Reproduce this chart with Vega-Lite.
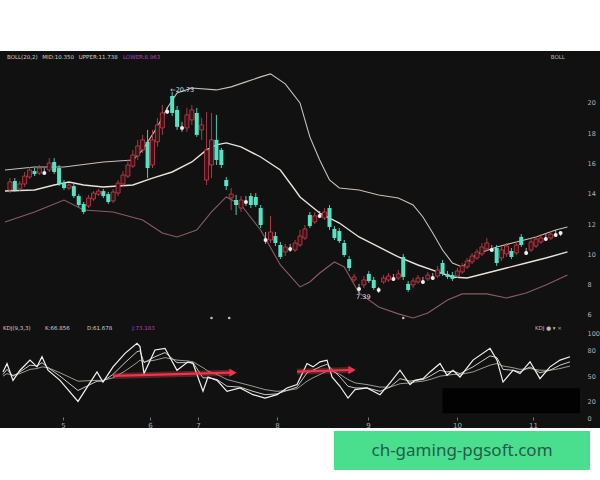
{
 "$schema": "https://vega.github.io/schema/vega-lite/v6.json",
 "background": "#ffffff",
 "padding": {"top": 51, "left": 0, "right": 0, "bottom": 0},
 "config": {"font": "DejaVu Sans", "view": {"stroke": null}},
 "datasets": {
  "candles": [
   {"t":0,"open":14.25,"close":14.78,"high":15.04,"low":14.05},
   {"t":1,"open":14.84,"close":14.25,"high":15.04,"low":14.12},
   {"t":2,"open":14.32,"close":14.65,"high":14.84,"low":14.18},
   {"t":3,"open":14.65,"close":15.17,"high":15.44,"low":14.45},
   {"t":4,"open":15.11,"close":15.57,"high":15.77,"low":14.98},
   {"t":5,"open":15.50,"close":15.31,"high":15.70,"low":15.17},
   {"t":6,"open":15.37,"close":15.70,"high":15.90,"low":15.24},
   {"t":7,"open":15.50,"close":15.37,"high":15.70,"low":15.24},
   {"t":8,"open":15.57,"close":16.03,"high":16.36,"low":15.44},
   {"t":9,"open":16.10,"close":15.44,"high":16.36,"low":15.31},
   {"t":10,"open":15.70,"close":14.65,"high":15.90,"low":14.51},
   {"t":11,"open":14.71,"close":14.38,"high":14.91,"low":14.25},
   {"t":12,"open":14.38,"close":14.58,"high":14.71,"low":14.25},
   {"t":13,"open":14.51,"close":13.85,"high":14.65,"low":13.72},
   {"t":14,"open":13.85,"close":13.26,"high":13.98,"low":13.13},
   {"t":15,"open":13.33,"close":12.80,"high":13.46,"low":12.67},
   {"t":16,"open":13.20,"close":13.72,"high":13.92,"low":13.06},
   {"t":17,"open":13.66,"close":14.05,"high":14.18,"low":13.53},
   {"t":18,"open":13.98,"close":14.18,"high":14.32,"low":13.85},
   {"t":19,"open":14.18,"close":13.85,"high":14.32,"low":13.72},
   {"t":20,"open":13.98,"close":13.46,"high":14.12,"low":13.33},
   {"t":21,"open":13.53,"close":14.12,"high":14.32,"low":13.39},
   {"t":22,"open":14.05,"close":14.71,"high":14.91,"low":13.85},
   {"t":23,"open":14.65,"close":15.24,"high":15.50,"low":14.45},
   {"t":24,"open":15.17,"close":15.90,"high":16.23,"low":15.04},
   {"t":25,"open":15.83,"close":16.56,"high":16.90,"low":15.70},
   {"t":26,"open":16.50,"close":17.16,"high":17.56,"low":16.23},
   {"t":27,"open":16.90,"close":17.56,"high":17.89,"low":16.70},
   {"t":28,"open":17.43,"close":15.70,"high":18.22,"low":15.04},
   {"t":29,"open":15.90,"close":17.56,"high":18.22,"low":15.70},
   {"t":30,"open":17.43,"close":18.55,"high":19.01,"low":17.10},
   {"t":31,"open":18.35,"close":19.34,"high":19.87,"low":17.89},
   {"t":32,"open":19.54,"close":19.41,"high":19.74,"low":19.28},
   {"t":33,"open":20.46,"close":19.34,"high":20.73,"low":19.14},
   {"t":34,"open":19.54,"close":18.42,"high":19.80,"low":18.22},
   {"t":35,"open":18.48,"close":18.35,"high":18.75,"low":18.09},
   {"t":36,"open":18.35,"close":19.21,"high":19.67,"low":18.09},
   {"t":37,"open":18.88,"close":19.54,"high":19.87,"low":18.55},
   {"t":38,"open":19.34,"close":17.89,"high":19.67,"low":17.76},
   {"t":39,"open":18.22,"close":18.55,"high":19.01,"low":17.56},
   {"t":40,"open":14.91,"close":16.90,"high":19.41,"low":14.58},
   {"t":41,"open":15.90,"close":17.56,"high":19.34,"low":15.04},
   {"t":42,"open":17.56,"close":16.23,"high":19.21,"low":15.90},
   {"t":43,"open":16.90,"close":15.90,"high":17.03,"low":15.70},
   {"t":44,"open":14.91,"close":14.51,"high":15.11,"low":14.25},
   {"t":45,"open":13.72,"close":13.98,"high":14.38,"low":12.93},
   {"t":46,"open":13.59,"close":13.26,"high":13.92,"low":12.60},
   {"t":47,"open":13.06,"close":13.59,"high":13.85,"low":12.80},
   {"t":48,"open":13.59,"close":13.46,"high":13.85,"low":13.20},
   {"t":49,"open":13.85,"close":13.26,"high":14.05,"low":13.06},
   {"t":50,"open":13.79,"close":13.26,"high":14.05,"low":13.13},
   {"t":51,"open":13.06,"close":11.94,"high":13.26,"low":11.74},
   {"t":52,"open":11.08,"close":10.95,"high":11.48,"low":10.69},
   {"t":53,"open":10.95,"close":11.48,"high":12.54,"low":10.75},
   {"t":54,"open":11.21,"close":10.75,"high":11.48,"low":10.55},
   {"t":55,"open":10.62,"close":9.83,"high":10.82,"low":9.69},
   {"t":56,"open":10.16,"close":10.49,"high":10.69,"low":9.89},
   {"t":57,"open":10.49,"close":10.36,"high":10.69,"low":10.16},
   {"t":58,"open":10.29,"close":10.75,"high":10.95,"low":10.16},
   {"t":59,"open":10.62,"close":11.21,"high":11.61,"low":10.49},
   {"t":60,"open":11.08,"close":11.68,"high":11.94,"low":10.95},
   {"t":61,"open":12.60,"close":11.87,"high":12.80,"low":11.74},
   {"t":62,"open":12.14,"close":12.54,"high":12.80,"low":12.01},
   {"t":63,"open":12.67,"close":12.54,"high":12.87,"low":12.40},
   {"t":64,"open":12.40,"close":12.80,"high":13.06,"low":12.27},
   {"t":65,"open":13.06,"close":11.81,"high":13.26,"low":11.61},
   {"t":66,"open":11.68,"close":11.08,"high":11.87,"low":10.95},
   {"t":67,"open":11.54,"close":10.88,"high":11.74,"low":10.75},
   {"t":68,"open":10.75,"close":9.96,"high":10.95,"low":9.83},
   {"t":69,"open":9.69,"close":9.10,"high":9.89,"low":8.90},
   {"t":70,"open":8.31,"close":8.51,"high":8.71,"low":8.18},
   {"t":71,"open":7.85,"close":7.72,"high":8.05,"low":7.39},
   {"t":72,"open":7.98,"close":8.31,"high":8.57,"low":7.78},
   {"t":73,"open":8.71,"close":8.24,"high":8.90,"low":8.11},
   {"t":74,"open":8.31,"close":7.78,"high":8.51,"low":7.65},
   {"t":75,"open":7.72,"close":7.65,"high":7.85,"low":7.45},
   {"t":76,"open":8.18,"close":8.44,"high":8.64,"low":8.05},
   {"t":77,"open":8.31,"close":8.57,"high":8.77,"low":8.18},
   {"t":78,"open":8.51,"close":8.38,"high":8.71,"low":8.24},
   {"t":79,"open":8.44,"close":8.71,"high":8.97,"low":8.31},
   {"t":80,"open":9.83,"close":8.51,"high":10.03,"low":8.31},
   {"t":81,"open":8.05,"close":7.65,"high":8.24,"low":7.52},
   {"t":82,"open":7.98,"close":8.24,"high":8.44,"low":7.78},
   {"t":83,"open":8.18,"close":8.44,"high":8.64,"low":8.05},
   {"t":84,"open":8.31,"close":8.18,"high":8.51,"low":8.05},
   {"t":85,"open":8.38,"close":8.64,"high":8.84,"low":8.24},
   {"t":86,"open":8.57,"close":8.44,"high":8.77,"low":8.31},
   {"t":87,"open":8.57,"close":8.97,"high":9.24,"low":8.44},
   {"t":88,"open":9.43,"close":8.71,"high":9.63,"low":8.57},
   {"t":89,"open":8.71,"close":8.51,"high":8.90,"low":8.38},
   {"t":90,"open":8.64,"close":8.38,"high":8.84,"low":8.24},
   {"t":91,"open":8.57,"close":8.90,"high":9.10,"low":8.44},
   {"t":92,"open":8.84,"close":9.24,"high":9.43,"low":8.71},
   {"t":93,"open":9.17,"close":9.56,"high":9.76,"low":9.04},
   {"t":94,"open":9.50,"close":9.89,"high":10.09,"low":9.36},
   {"t":95,"open":9.76,"close":10.16,"high":10.36,"low":9.63},
   {"t":96,"open":10.03,"close":10.49,"high":10.75,"low":9.89},
   {"t":97,"open":10.36,"close":10.75,"high":11.08,"low":10.22},
   {"t":98,"open":10.42,"close":10.29,"high":10.62,"low":10.16},
   {"t":99,"open":10.42,"close":9.43,"high":10.62,"low":9.24},
   {"t":100,"open":9.76,"close":10.29,"high":10.55,"low":9.56},
   {"t":101,"open":10.03,"close":10.55,"high":10.75,"low":9.83},
   {"t":102,"open":10.22,"close":9.83,"high":10.42,"low":9.69},
   {"t":103,"open":10.09,"close":10.62,"high":10.88,"low":9.96},
   {"t":104,"open":11.15,"close":10.62,"high":11.34,"low":10.49},
   {"t":105,"open":10.22,"close":10.09,"high":10.42,"low":9.96},
   {"t":106,"open":10.29,"close":10.82,"high":11.08,"low":10.16},
   {"t":107,"open":10.55,"close":11.01,"high":11.21,"low":10.42},
   {"t":108,"open":10.82,"close":11.08,"high":11.34,"low":10.69},
   {"t":109,"open":11.15,"close":11.01,"high":11.34,"low":10.88},
   {"t":110,"open":11.08,"close":11.34,"high":11.54,"low":10.95},
   {"t":111,"open":11.41,"close":11.28,"high":11.61,"low":11.15},
   {"t":112,"open":11.34,"close":11.41,"high":11.54,"low":11.21}
  ],
  "bands": [
   {"band":"upper","t":-1,"p":15.57},{"band":"upper","t":5,"p":15.77},{"band":"upper","t":11,"p":15.77},{"band":"upper","t":19,"p":16.10},{"band":"upper","t":25,"p":16.23},{"band":"upper","t":27,"p":16.90},{"band":"upper","t":30,"p":18.42},{"band":"upper","t":32,"p":19.67},{"band":"upper","t":34,"p":20.66},{"band":"upper","t":37,"p":20.99},{"band":"upper","t":42,"p":20.86},{"band":"upper","t":45,"p":21.06},{"band":"upper","t":48,"p":21.39},{"band":"upper","t":51,"p":21.72},{"band":"upper","t":53,"p":21.92},{"band":"upper","t":56,"p":21.26},{"band":"upper","t":59,"p":20.00},{"band":"upper","t":61,"p":17.76},{"band":"upper","t":63,"p":16.23},{"band":"upper","t":65,"p":14.91},{"band":"upper","t":67,"p":14.38},{"band":"upper","t":71,"p":14.25},{"band":"upper","t":75,"p":13.92},{"band":"upper","t":79,"p":13.72},{"band":"upper","t":82,"p":13.26},{"band":"upper","t":84,"p":12.47},{"band":"upper","t":86,"p":11.41},{"band":"upper","t":88,"p":10.29},{"band":"upper","t":90,"p":9.43},{"band":"upper","t":92,"p":9.17},{"band":"upper","t":95,"p":10.03},{"band":"upper","t":99,"p":10.49},{"band":"upper","t":103,"p":10.82},{"band":"upper","t":107,"p":11.15},{"band":"upper","t":111,"p":11.61},{"band":"upper","t":113.4,"p":11.81},
   {"band":"mid","t":-1,"p":14.18},{"band":"mid","t":5,"p":14.25},{"band":"mid","t":9,"p":14.58},{"band":"mid","t":12,"p":14.78},{"band":"mid","t":15,"p":14.58},{"band":"mid","t":19,"p":14.45},{"band":"mid","t":25,"p":14.58},{"band":"mid","t":29,"p":15.04},{"band":"mid","t":33,"p":15.44},{"band":"mid","t":37,"p":16.10},{"band":"mid","t":40,"p":16.90},{"band":"mid","t":42,"p":17.23},{"band":"mid","t":44,"p":17.36},{"band":"mid","t":47,"p":17.10},{"band":"mid","t":51,"p":16.43},{"band":"mid","t":55,"p":15.57},{"band":"mid","t":58,"p":14.25},{"band":"mid","t":59,"p":13.79},{"band":"mid","t":63,"p":12.73},{"band":"mid","t":67,"p":12.07},{"band":"mid","t":71,"p":11.15},{"band":"mid","t":75,"p":10.49},{"band":"mid","t":79,"p":9.83},{"band":"mid","t":83,"p":9.30},{"band":"mid","t":87,"p":8.84},{"band":"mid","t":90,"p":8.51},{"band":"mid","t":93,"p":8.44},{"band":"mid","t":97,"p":8.77},{"band":"mid","t":101,"p":9.10},{"band":"mid","t":105,"p":9.43},{"band":"mid","t":109,"p":9.76},{"band":"mid","t":113.4,"p":10.16},
   {"band":"lower","t":-1,"p":12.14},{"band":"lower","t":5,"p":12.80},{"band":"lower","t":11,"p":13.59},{"band":"lower","t":15,"p":12.93},{"band":"lower","t":21,"p":12.80},{"band":"lower","t":27,"p":12.27},{"band":"lower","t":31,"p":11.41},{"band":"lower","t":34,"p":11.15},{"band":"lower","t":38,"p":11.61},{"band":"lower","t":41,"p":12.80},{"band":"lower","t":44,"p":13.79},{"band":"lower","t":47,"p":13.26},{"band":"lower","t":51,"p":11.61},{"band":"lower","t":55,"p":9.30},{"band":"lower","t":59,"p":7.85},{"band":"lower","t":61,"p":8.18},{"band":"lower","t":63,"p":8.77},{"band":"lower","t":66,"p":9.50},{"band":"lower","t":68,"p":9.17},{"band":"lower","t":71,"p":7.45},{"band":"lower","t":75,"p":6.53},{"band":"lower","t":79,"p":6.07},{"band":"lower","t":82,"p":5.80},{"band":"lower","t":85,"p":6.13},{"band":"lower","t":89,"p":6.99},{"band":"lower","t":92,"p":7.39},{"band":"lower","t":97,"p":7.39},{"band":"lower","t":101,"p":7.12},{"band":"lower","t":105,"p":7.45},{"band":"lower","t":109,"p":7.98},{"band":"lower","t":113.4,"p":8.64}
  ],
  "priceNotes": [
   {"t":32.6,"p":20.86,"txt":"←20.73"},
   {"t":70.4,"p":7.19,"txt":"7.39"}
  ],
  "events": [{"t":41,"p":5.8},{"t":44.6,"p":5.8},{"t":80,"p":5.8}],
  "priceHeader": [
   {"t":-0.6,"p":23.04,"txt":"BOLL(20,2)","tone":"w"},
   {"t":6.6,"p":23.04,"txt":"MID:10.350","tone":"w"},
   {"t":14,"p":23.04,"txt":"UPPER:11.738","tone":"w"},
   {"t":23,"p":23.04,"txt":"LOWER:8.963","tone":"m"},
   {"t":110,"p":23.04,"txt":"BOLL","tone":"g"}
  ],
  "kdj": [
   {"t":-0.4,"J":55,"K":52,"D":50},{"t":0.4,"J":65,"K":58,"D":53},{"t":1.6,"J":45,"K":50,"D":51},{"t":3,"J":57,"K":55,"D":53},{"t":5,"J":69,"K":63,"D":58},{"t":6.4,"J":61,"K":62,"D":59},{"t":7.4,"J":73,"K":66,"D":61},{"t":8.6,"J":57,"K":60,"D":60},{"t":11,"J":45,"K":50,"D":54},{"t":14.6,"J":20,"K":33,"D":44},{"t":18.4,"J":55,"K":44,"D":45},{"t":19.6,"J":43,"K":44,"D":45},{"t":21.6,"J":61,"K":52,"D":48},{"t":24,"J":77,"K":66,"D":56},{"t":26.4,"J":89,"K":79,"D":66},{"t":27,"J":85,"K":80,"D":69},{"t":27.8,"J":53,"K":66,"D":67},{"t":30,"J":81,"K":73,"D":69},{"t":32,"J":83,"K":78,"D":72},{"t":34.4,"J":57,"K":66,"D":69},{"t":36.6,"J":67,"K":66,"D":68},{"t":37.6,"J":65,"K":66,"D":67},{"t":39.6,"J":32,"K":48,"D":60},{"t":40.6,"J":49,"K":48,"D":56},{"t":42.4,"J":45,"K":46,"D":52},{"t":44.4,"J":32,"K":38,"D":46},{"t":47,"J":36,"K":37,"D":42},{"t":49.6,"J":28,"K":32,"D":38},{"t":52,"J":24,"K":28,"D":34},{"t":54.4,"J":28,"K":29,"D":32},{"t":56.4,"J":36,"K":33,"D":33},{"t":58.4,"J":40,"K":37,"D":35},{"t":60.4,"J":65,"K":54,"D":44},{"t":61.6,"J":61,"K":57,"D":48},{"t":63,"J":67,"K":61,"D":52},{"t":64.4,"J":69,"K":64,"D":56},{"t":65.4,"J":49,"K":58,"D":56},{"t":67,"J":38,"K":49,"D":52},{"t":68.6,"J":24,"K":38,"D":46},{"t":70,"J":34,"K":36,"D":42},{"t":72.4,"J":36,"K":36,"D":40},{"t":75,"J":28,"K":32,"D":37},{"t":77,"J":42,"K":37,"D":37},{"t":79,"J":57,"K":47,"D":41},{"t":81,"J":40,"K":44,"D":42},{"t":82,"J":45,"K":45,"D":43},{"t":83.6,"J":47,"K":46,"D":44},{"t":85,"J":55,"K":50,"D":46},{"t":87,"J":65,"K":57,"D":50},{"t":88.4,"J":51,"K":55,"D":51},{"t":89.6,"J":57,"K":56,"D":52},{"t":91,"J":49,"K":53,"D":52},{"t":93.6,"J":69,"K":61,"D":55},{"t":97,"J":83,"K":74,"D":63},{"t":98.4,"J":69,"K":72,"D":65},{"t":99.6,"J":43,"K":58,"D":62},{"t":101.6,"J":57,"K":57,"D":60},{"t":103,"J":53,"K":55,"D":58},{"t":105,"J":67,"K":61,"D":59},{"t":107,"J":47,"K":54,"D":57},{"t":109,"J":61,"K":57,"D":57},{"t":111,"J":69,"K":63,"D":59},{"t":113,"J":73,"K":67,"D":62}
  ],
  "arrows": [
   {"arrow":"a","t":21.6,"v":50.3},{"arrow":"a","t":45.2,"v":54.1},
   {"arrow":"b","t":58.4,"v":55.3},{"arrow":"b","t":69.0,"v":57.3}
  ],
  "arrowHeads": [{"t":45.6,"v":54.1},{"t":69.4,"v":57.3}],
  "mask": [{"t1":87.5,"t2":115,"v1":5.9,"v2":35.6}],
  "kdjHeader": [
   {"t":-0.4,"v":107,"txt":"KDJ(9,3,3)","tone":"w"},
   {"t":8,"v":107,"txt":"K:66.856","tone":"w"},
   {"t":16.4,"v":107,"txt":"D:61.678","tone":"y"},
   {"t":25.4,"v":107,"txt":"J:73.183","tone":"m"},
   {"t":106,"v":107,"txt":"KDJ ● ▾ ×","tone":"g"}
  ]
 },
 "spacing": 3,
 "vconcat": [
  {
   "spacing": 0,
   "vconcat": [
    {
     "width": 600, "height": 270,
     "view": {"fill": "#111111", "stroke": null},
     "encoding": {
      "x": {"field": "t", "type": "quantitative", "scale": {"domain": [-1, 119], "nice": false, "zero": false}, "axis": null}
     },
     "layer": [
      {"data": {"name": "bands"}, "transform": [{"filter": "datum.band == 'lower'"}],
       "mark": {"type": "line", "color": "#8a5c64", "strokeWidth": 1.1},
       "encoding": {
        "y": {"field": "p", "type": "quantitative", "scale": {"domain": [5.6, 23.43], "nice": false, "zero": false},
              "axis": {"orient": "right", "offset": -14, "zindex": 2, "values": [6,8,10,12,14,16,18,20], "domain": false, "ticks": false, "grid": false, "labelColor": "#b4b4b4", "labelFontSize": 6.5, "labelPadding": 1, "labelOverlap": false, "title": null}}
       }},
      {"data": {"name": "bands"}, "transform": [{"filter": "datum.band == 'upper'"}],
       "mark": {"type": "line", "color": "#c9c2ba", "strokeWidth": 1.1},
       "encoding": {"y": {"field": "p", "type": "quantitative", "axis": {"orient": "right", "offset": -14, "zindex": 2, "values": [6,8,10,12,14,16,18,20], "domain": false, "ticks": false, "grid": false, "labelColor": "#b4b4b4", "labelFontSize": 6.5, "labelPadding": 1, "labelOverlap": false, "title": null}}}},
      {"data": {"name": "bands"}, "transform": [{"filter": "datum.band == 'mid'"}],
       "mark": {"type": "line", "color": "#e8e2d8", "strokeWidth": 1.4},
       "encoding": {"y": {"field": "p", "type": "quantitative", "axis": {"orient": "right", "offset": -14, "zindex": 2, "values": [6,8,10,12,14,16,18,20], "domain": false, "ticks": false, "grid": false, "labelColor": "#b4b4b4", "labelFontSize": 6.5, "labelPadding": 1, "labelOverlap": false, "title": null}}}},
      {"data": {"name": "candles"}, "transform": [{"filter": "datum.close - datum.open >= 0.15"}],
       "mark": {"type": "rule", "color": "#b8404c", "strokeWidth": 0.9},
       "encoding": {"y": {"field": "low", "type": "quantitative", "axis": {"orient": "right", "offset": -14, "zindex": 2, "values": [6,8,10,12,14,16,18,20], "domain": false, "ticks": false, "grid": false, "labelColor": "#b4b4b4", "labelFontSize": 6.5, "labelPadding": 1, "labelOverlap": false, "title": null}}, "y2": {"field": "high"}}},
      {"data": {"name": "candles"}, "transform": [{"filter": "datum.open - datum.close >= 0.15"}],
       "mark": {"type": "rule", "color": "#55e0c0", "strokeWidth": 0.9},
       "encoding": {"y": {"field": "low", "type": "quantitative", "axis": {"orient": "right", "offset": -14, "zindex": 2, "values": [6,8,10,12,14,16,18,20], "domain": false, "ticks": false, "grid": false, "labelColor": "#b4b4b4", "labelFontSize": 6.5, "labelPadding": 1, "labelOverlap": false, "title": null}}, "y2": {"field": "high"}}},
      {"data": {"name": "candles"}, "transform": [{"filter": "abs(datum.close - datum.open) < 0.15"}],
       "mark": {"type": "rule", "color": "#cfcfcf", "strokeWidth": 0.8},
       "encoding": {"y": {"field": "low", "type": "quantitative", "axis": {"orient": "right", "offset": -14, "zindex": 2, "values": [6,8,10,12,14,16,18,20], "domain": false, "ticks": false, "grid": false, "labelColor": "#b4b4b4", "labelFontSize": 6.5, "labelPadding": 1, "labelOverlap": false, "title": null}}, "y2": {"field": "high"}}},
      {"data": {"name": "candles"}, "transform": [{"filter": "datum.close - datum.open >= 0.15"}],
       "mark": {"type": "bar", "size": 4, "fill": "#3a1217", "stroke": "#c8404c", "strokeWidth": 0.8},
       "encoding": {"y": {"field": "open", "type": "quantitative", "axis": {"orient": "right", "offset": -14, "zindex": 2, "values": [6,8,10,12,14,16,18,20], "domain": false, "ticks": false, "grid": false, "labelColor": "#b4b4b4", "labelFontSize": 6.5, "labelPadding": 1, "labelOverlap": false, "title": null}}, "y2": {"field": "close"}}},
      {"data": {"name": "candles"}, "transform": [{"filter": "datum.open - datum.close >= 0.15"}],
       "mark": {"type": "bar", "size": 4, "fill": "#58e2c4"},
       "encoding": {"y": {"field": "open", "type": "quantitative", "axis": {"orient": "right", "offset": -14, "zindex": 2, "values": [6,8,10,12,14,16,18,20], "domain": false, "ticks": false, "grid": false, "labelColor": "#b4b4b4", "labelFontSize": 6.5, "labelPadding": 1, "labelOverlap": false, "title": null}}, "y2": {"field": "close"}}},
      {"data": {"name": "candles"}, "transform": [{"filter": "abs(datum.close - datum.open) < 0.15"}],
       "mark": {"type": "point", "filled": true, "shape": "circle", "size": 16, "color": "#eeeeee", "opacity": 1},
       "encoding": {"y": {"field": "close", "type": "quantitative", "axis": {"orient": "right", "offset": -14, "zindex": 2, "values": [6,8,10,12,14,16,18,20], "domain": false, "ticks": false, "grid": false, "labelColor": "#b4b4b4", "labelFontSize": 6.5, "labelPadding": 1, "labelOverlap": false, "title": null}}}},
      {"data": {"name": "events"},
       "mark": {"type": "point", "filled": true, "shape": "circle", "size": 7, "color": "#bbbbbb", "opacity": 1},
       "encoding": {"y": {"field": "p", "type": "quantitative", "axis": {"orient": "right", "offset": -14, "zindex": 2, "values": [6,8,10,12,14,16,18,20], "domain": false, "ticks": false, "grid": false, "labelColor": "#b4b4b4", "labelFontSize": 6.5, "labelPadding": 1, "labelOverlap": false, "title": null}}}},
      {"data": {"name": "priceNotes"},
       "mark": {"type": "text", "align": "left", "baseline": "middle", "fontSize": 6.5, "color": "#dddddd"},
       "encoding": {"y": {"field": "p", "type": "quantitative", "axis": {"orient": "right", "offset": -14, "zindex": 2, "values": [6,8,10,12,14,16,18,20], "domain": false, "ticks": false, "grid": false, "labelColor": "#b4b4b4", "labelFontSize": 6.5, "labelPadding": 1, "labelOverlap": false, "title": null}}, "text": {"field": "txt"}}},
      {"data": {"name": "priceHeader"},
       "mark": {"type": "text", "align": "left", "baseline": "middle", "fontSize": 5.5},
       "encoding": {"y": {"field": "p", "type": "quantitative", "axis": {"orient": "right", "offset": -14, "zindex": 2, "values": [6,8,10,12,14,16,18,20], "domain": false, "ticks": false, "grid": false, "labelColor": "#b4b4b4", "labelFontSize": 6.5, "labelPadding": 1, "labelOverlap": false, "title": null}}, "text": {"field": "txt"},
        "color": {"field": "tone", "type": "nominal", "scale": {"domain": ["w","m","g"], "range": ["#d0d0d0","#b046c0","#bbbbbb"]}, "legend": null}}}
     ]
    },
    {
     "width": 600, "height": 107,
     "view": {"fill": "#111111", "stroke": null},
     "encoding": {
      "x": {"field": "t", "type": "quantitative", "scale": {"domain": [-1, 119], "nice": false, "zero": false},
            "axis": {"orient": "bottom", "offset": -11, "zindex": 2, "values": [11.6,29,38.6,54.4,72.6,90.4,105.6], "labelExpr": "['5','6','7','8','9','10','11'][indexof([11.6,29,38.6,54.4,72.6,90.4,105.6], datum.value)]", "domain": false, "ticks": true, "tickSize": 3, "tickColor": "#777777", "grid": false, "labelColor": "#aaaaaa", "labelFontSize": 7, "labelPadding": 1, "labelOverlap": false, "title": null}}
     },
     "layer": [
      {"data": {"name": "mask"},
       "mark": {"type": "rect", "color": "#020202"},
       "encoding": {
        "x": {"field": "t1", "type": "quantitative", "axis": {"orient": "bottom", "offset": -11, "zindex": 2, "values": [11.6,29,38.6,54.4,72.6,90.4,105.6], "labelExpr": "['5','6','7','8','9','10','11'][indexof([11.6,29,38.6,54.4,72.6,90.4,105.6], datum.value)]", "domain": false, "ticks": true, "tickSize": 3, "tickColor": "#777777", "grid": false, "labelColor": "#aaaaaa", "labelFontSize": 7, "labelPadding": 1, "labelOverlap": false, "title": null}},
        "x2": {"field": "t2"},
        "y": {"field": "v1", "type": "quantitative", "scale": {"domain": [-11.5, 115.4], "nice": false, "zero": false},
              "axis": {"orient": "right", "offset": -14, "zindex": 2, "values": [0,20,50,80,100], "domain": false, "ticks": false, "grid": false, "labelColor": "#b4b4b4", "labelFontSize": 6.5, "labelPadding": 1, "labelOverlap": false, "title": null}},
        "y2": {"field": "v2"}
       }},
      {"data": {"name": "kdj"},
       "mark": {"type": "line", "color": "#9a9a90", "strokeWidth": 1},
       "encoding": {"y": {"field": "D", "type": "quantitative", "axis": {"orient": "right", "offset": -14, "zindex": 2, "values": [0,20,50,80,100], "domain": false, "ticks": false, "grid": false, "labelColor": "#b4b4b4", "labelFontSize": 6.5, "labelPadding": 1, "labelOverlap": false, "title": null}}}},
      {"data": {"name": "kdj"},
       "mark": {"type": "line", "color": "#c8c8c8", "strokeWidth": 1},
       "encoding": {"y": {"field": "K", "type": "quantitative", "axis": {"orient": "right", "offset": -14, "zindex": 2, "values": [0,20,50,80,100], "domain": false, "ticks": false, "grid": false, "labelColor": "#b4b4b4", "labelFontSize": 6.5, "labelPadding": 1, "labelOverlap": false, "title": null}}}},
      {"data": {"name": "kdj"},
       "mark": {"type": "line", "color": "#f2f2f2", "strokeWidth": 1.2},
       "encoding": {"y": {"field": "J", "type": "quantitative", "axis": {"orient": "right", "offset": -14, "zindex": 2, "values": [0,20,50,80,100], "domain": false, "ticks": false, "grid": false, "labelColor": "#b4b4b4", "labelFontSize": 6.5, "labelPadding": 1, "labelOverlap": false, "title": null}}}},
      {"data": {"name": "arrows"},
       "mark": {"type": "line", "color": "#ff4a5c", "strokeWidth": 6, "opacity": 0.3},
       "encoding": {"y": {"field": "v", "type": "quantitative", "axis": {"orient": "right", "offset": -14, "zindex": 2, "values": [0,20,50,80,100], "domain": false, "ticks": false, "grid": false, "labelColor": "#b4b4b4", "labelFontSize": 6.5, "labelPadding": 1, "labelOverlap": false, "title": null}}, "detail": {"field": "arrow"}}},
      {"data": {"name": "arrows"},
       "mark": {"type": "line", "color": "#f0344a", "strokeWidth": 2.2},
       "encoding": {"y": {"field": "v", "type": "quantitative", "axis": {"orient": "right", "offset": -14, "zindex": 2, "values": [0,20,50,80,100], "domain": false, "ticks": false, "grid": false, "labelColor": "#b4b4b4", "labelFontSize": 6.5, "labelPadding": 1, "labelOverlap": false, "title": null}}, "detail": {"field": "arrow"}}},
      {"data": {"name": "arrowHeads"},
       "mark": {"type": "point", "filled": true, "shape": "triangle-right", "size": 70, "color": "#f0344a", "opacity": 1},
       "encoding": {"y": {"field": "v", "type": "quantitative", "axis": {"orient": "right", "offset": -14, "zindex": 2, "values": [0,20,50,80,100], "domain": false, "ticks": false, "grid": false, "labelColor": "#b4b4b4", "labelFontSize": 6.5, "labelPadding": 1, "labelOverlap": false, "title": null}}}},
      {"data": {"name": "kdjHeader"},
       "mark": {"type": "text", "align": "left", "baseline": "middle", "fontSize": 5.5},
       "encoding": {"y": {"field": "v", "type": "quantitative", "axis": {"orient": "right", "offset": -14, "zindex": 2, "values": [0,20,50,80,100], "domain": false, "ticks": false, "grid": false, "labelColor": "#b4b4b4", "labelFontSize": 6.5, "labelPadding": 1, "labelOverlap": false, "title": null}}, "text": {"field": "txt"},
        "color": {"field": "tone", "type": "nominal", "scale": {"domain": ["w","y","m","g"], "range": ["#d0d0d0","#d4cc50","#a846b8","#aaaaaa"]}, "legend": null}}}
     ]
    }
   ]
  },
  {
   "spacing": 0,
   "hconcat": [
    {"width": 334, "height": 39, "view": {"fill": "#ffffff", "stroke": null},
     "data": {"values": [{"site": ""}]}, "mark": {"type": "text"}, "encoding": {"text": {"field": "site"}}},
    {"width": 256, "height": 39, "view": {"fill": "#4ade8f", "stroke": null},
     "data": {"values": [{"site": "ch-gaming-pgsoft.com"}]},
     "mark": {"type": "text", "font": "Noto Sans", "fontSize": 17, "color": "#1e5e4a", "align": "center", "baseline": "middle"},
     "encoding": {"text": {"field": "site"}}}
   ]
  }
 ]
}
